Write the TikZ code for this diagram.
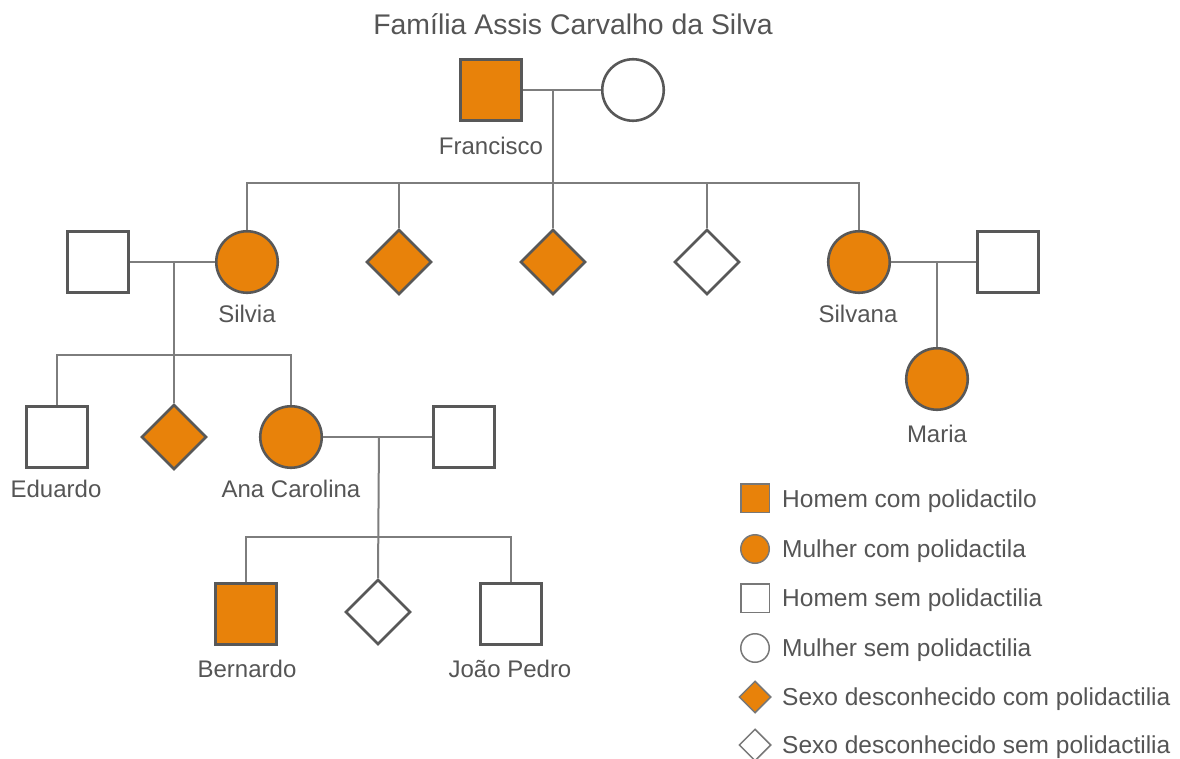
\documentclass[tikz,border=0pt]{standalone}
\usepackage{fontspec}
\setmainfont{Liberation Sans}
\usetikzlibrary{shapes.geometric}
\definecolor{orng}{RGB}{232,130,10}
\definecolor{edgeclr}{RGB}{88,88,88}
\definecolor{lineclr}{RGB}{125,125,125}
\definecolor{legclr}{RGB}{120,120,120}
\definecolor{txtclr}{RGB}{85,85,85}
\begin{document}
\begin{tikzpicture}[x=1pt,y=-1pt,
  link/.style={draw=lineclr, line width=2pt},
  indiv/.style={draw=edgeclr, line width=2.6pt, inner sep=0pt},
  male/.style={indiv, rectangle, minimum size=61.5pt},
  female/.style={indiv, circle, minimum size=61.5pt},
  unk/.style={indiv, diamond, minimum width=65pt, minimum height=65pt},
  aff/.style={fill=orng},
  unaff/.style={fill=white},
  lbl/.style={anchor=base, text=txtclr, inner sep=0pt, font=\fontsize{24}{28}\selectfont},
  ttl/.style={anchor=base, text=txtclr, inner sep=0pt, font=\fontsize{28.4}{32}\selectfont},
  legicon/.style={draw=legclr, line width=1.5pt, inner sep=0pt},
  legsq/.style={legicon, rectangle, minimum size=28.5pt},
  legci/.style={legicon, circle, minimum size=28.5pt},
  legdi/.style={legicon, diamond, minimum width=32pt, minimum height=32pt},
  legtxt/.style={anchor=base west, text=txtclr, inner sep=0pt, font=\fontsize{24.5}{28}\selectfont}
]
\fill[white] (0,0) rectangle (1180,759);
\useasboundingbox (0,0) rectangle (1180,759);

% title
\node[ttl] (title) at (573,35) {Família Assis Carvalho da Silva};

% generation I
\node[male, aff] (fran) at (491,90) {};
\node[female, unaff] (franw) at (633,90) {};
\node[lbl] (lfran) at (491,155) {Francisco};

% generation II
\node[female, aff] (silvia) at (247,262) {};
\node[unk, aff] (d1) at (399,262) {};
\node[unk, aff] (d2) at (553,262) {};
\node[unk, unaff] (d3) at (707,262) {};
\node[female, aff] (silvana) at (859,262) {};
\node[male, unaff] (silviah) at (98,262) {};
\node[male, unaff] (silvanah) at (1008,262) {};
\node[lbl] (lsilvia) at (247,322) {Silvia};
\node[lbl] (lsilvana) at (858,322) {Silvana};

% generation III
\node[male, unaff] (edu) at (57,437) {};
\node[unk, aff] (d4) at (174,437) {};
\node[female, aff] (ana) at (291,437) {};
\node[male, unaff] (anah) at (464,437) {};
\node[female, aff] (maria) at (937,379) {};
\node[lbl] (ledu) at (56,497) {Eduardo};
\node[lbl] (lana) at (291,497) {Ana Carolina};
\node[lbl] (lmaria) at (937,442) {Maria};

% generation IV
\node[male, aff] (bern) at (246,614) {};
\node[unk, unaff] (d5) at (378,612) {};
\node[male, unaff] (joao) at (511,614) {};
\node[lbl] (lbern) at (247,677) {Bernardo};
\node[lbl] (ljoao) at (510,677) {João Pedro};

% connection points
\coordinate (m1) at (553,90);
\coordinate (b1) at (553,183);
\coordinate (m2) at (174,262);
\coordinate (b2) at (174,355);
\coordinate (m3) at (937,262);
\coordinate (m4) at (379,437);
\coordinate (b4) at (379,537);

% connectors
\draw[link] (fran) -- (franw);
\draw[link] (m1) -- (d2.north);
\draw[link] (silvia.north) -- (silvia.north |- b1) -- (silvana.north |- b1) -- (silvana.north);
\draw[link] (d1.north) -- (d1.north |- b1);
\draw[link] (d3.north) -- (d3.north |- b1);

\draw[link] (silviah) -- (silvia);
\draw[link] (m2) -- (d4.north);
\draw[link] (edu.north) -- (edu.north |- b2) -- (ana.north |- b2) -- (ana.north);

\draw[link] (silvana) -- (silvanah);
\draw[link] (m3) -- (maria.north);

\draw[link] (ana) -- (anah);
\draw[link] (m4) -- (d5.north);
\draw[link] (bern.north) -- (bern.north |- b4) -- (joao.north |- b4) -- (joao.north);

% legend
\node[legsq, aff] (k1) at (755,498) {};
\node[legci, aff] (k2) at (755,549) {};
\node[legsq, unaff] (k3) at (755,598) {};
\node[legci, unaff] (k4) at (755,648) {};
\node[legdi, aff] (k5) at (755,697) {};
\node[legdi, unaff] (k6) at (755,745) {};
\node[legtxt] (t1) at (782,507) {Homem com polidactilo};
\node[legtxt] (t2) at (782,557) {Mulher com polidactila};
\node[legtxt] (t3) at (782,606) {Homem sem polidactilia};
\node[legtxt] (t4) at (782,656) {Mulher sem polidactilia};
\node[legtxt] (t5) at (782,705) {Sexo desconhecido com polidactilia};
\node[legtxt] (t6) at (782,753) {Sexo desconhecido sem polidactilia};
\end{tikzpicture}
\end{document}
